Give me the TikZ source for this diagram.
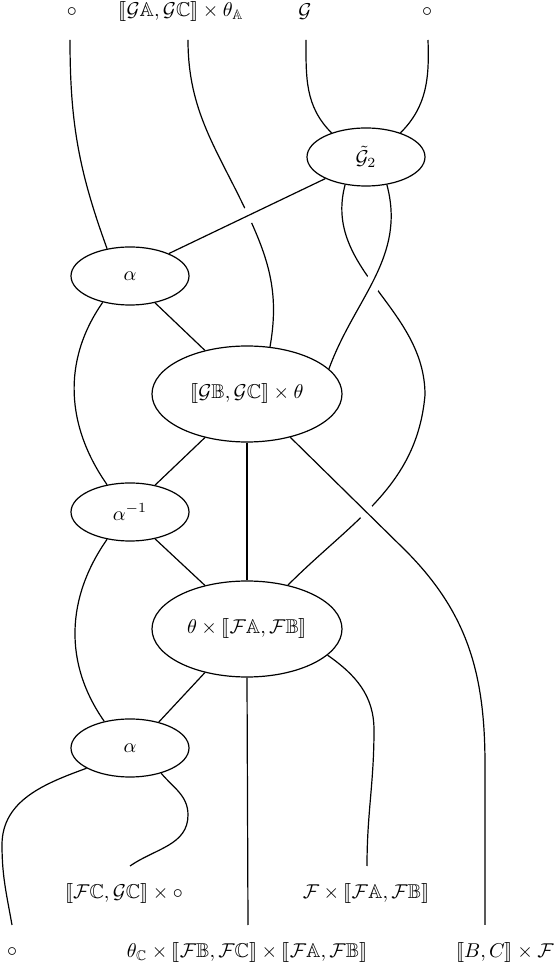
\documentclass[tikz,border=0pt]{standalone}
\usepackage{amssymb}
\usepackage{stmaryrd}
\usetikzlibrary{shapes.geometric}

\newcommand{\brk}[1]{\llbracket #1\rrbracket}

\begin{document}
\begin{tikzpicture}[x=0.5pt,y=0.5pt,semithick,
                    small/.style={ellipse,draw,inner sep=0pt,minimum width=59pt,minimum height=29pt},
                    big/.style={ellipse,draw,inner sep=0pt,minimum width=95pt,minimum height=48pt},
                    over/.style={preaction={draw=white,line width=8pt,shorten <=10pt,shorten >=10pt}}]
  \useasboundingbox (0,0) rectangle (556,965);

  % boxes
  \node[small] (G2) at (366,808) {$\tilde{\mathcal{G}}_2$};
  \node[small] (AL) at (130,689) {$\alpha$};
  \node[big]   (GB) at (247,571) {$\brk{\mathcal{G}\mathbb{B},\mathcal{G}\mathbb{C}}\times\theta$};
  \node[small] (AI) at (130,453) {$\alpha^{-1}$};
  \node[big]   (TF) at (247,336) {$\theta\times\brk{\mathcal{F}\mathbb{A},\mathcal{F}\mathbb{B}}$};
  \node[small] (AC) at (130,217) {$\alpha$};

  % labels
  \node (ltA) at (72,953)  {$\circ$};
  \node (ltB) at (181,953) {$\brk{\mathcal{G}\mathbb{A},\mathcal{G}\mathbb{C}}\times\theta_{\mathbb{A}}$};
  \node (ltC) at (305,953) {$\mathcal{G}$};
  \node (ltD) at (427,953) {$\circ$};
  \node (lmA) at (124,72)  {$\brk{\mathcal{F}\mathbb{C},\mathcal{G}\mathbb{C}}\times\circ$};
  \node (lmB) at (366,72)  {$\mathcal{F}\times\brk{\mathcal{F}\mathbb{A},\mathcal{F}\mathbb{B}}$};
  \node (lbA) at (12,13)   {$\circ$};
  \node (lbB) at (247,13)  {$\theta_{\mathbb{C}}\times\brk{\mathcal{F}\mathbb{B},\mathcal{F}\mathbb{C}}\times\brk{\mathcal{F}\mathbb{A},\mathcal{F}\mathbb{B}}$};
  \node (lbC) at (505,13)  {$\brk{B,C}\times\mathcal{F}$};

  % free ends
  \coordinate (tA) at (70,925);
  \coordinate (tB) at (188,925);
  \coordinate (tC) at (306,925);
  \coordinate (tD) at (428,925);
  \coordinate (bA) at (12,40);
  \coordinate (bB) at (130,99);
  \coordinate (bC) at (248,40);
  \coordinate (bD) at (367,99);
  \coordinate (bE) at (485,40);

  % strands underneath
  \draw (tA) to[out=-90,in=110] (AL.130);
  \draw (tB) to[out=-90,in=115] (248,750) to[out=-65,in=80] (GB.64);
  \draw (tC) to[out=-90,in=135] (G2.145);
  \draw (tD) to[out=-88,in=45] (G2.35);
  \draw (G2.-127) to[out=-105,in=90] (425,570) to[out=-95,in=45] (TF.47);
  \draw (AL.-136) to[out=-125,in=125] (AI.130);
  \draw (AI.-130) to[out=-125,in=125] (AC.134);
  \draw (TF.-18) to[out=-35,in=90] (374,235) to[out=-90,in=90] (bD);
  \draw (AC.-155) to[out=-160,in=90] (2,120) to[out=-90,in=100] (bA);
  \draw (AC.-39) to[out=-50,in=90] (188,150) to[out=-90,in=35] (bB);
  \path (AL.-47) edge (GB.134)
        (GB.-134) edge (AI.47)
        (GB.south) edge (TF.north)
        (AI.-47) edge (TF.134)
        (TF.-134) edge (AC.42)
        (TF.south) edge (bC);

  % strands on top
  \draw[over] (G2.-152) -- (AL.30);
  \draw[over] (G2.-53) to[out=-75,in=70] (GB.17);
  \draw[over] (GB.-45) -- (405,415) to[out=-45,in=90] (485,200) -- (bE);
\end{tikzpicture}
\end{document}
